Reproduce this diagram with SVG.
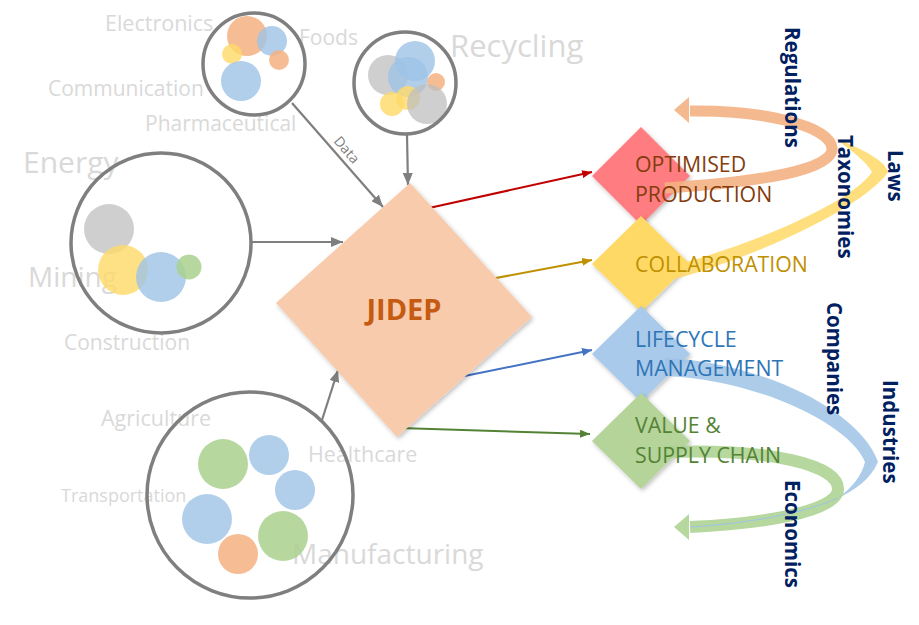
<svg xmlns="http://www.w3.org/2000/svg" width="919" height="625" viewBox="0 0 919 625">
<style>
.lbl{font-family:"Open Sans","Noto Sans",sans-serif;fill:#d9d9d9}
.ring{fill:none;stroke:#7f7f7f;stroke-width:3.5}
.gline{stroke:#7f7f7f;stroke-width:2.2;fill:none}
.vt{font-family:"Open Sans","Noto Sans",sans-serif;font-weight:bold;font-size:20.5px;fill:#002060}
.dt{font-family:"Open Sans","Noto Sans",sans-serif;font-size:21.3px}
.o{fill:#F4B183;fill-opacity:.85}
.b{fill:#9DC3E6;fill-opacity:.8}
.y{fill:#FFD966;fill-opacity:.8}
.g{fill:#BFBFBF;fill-opacity:.75}
.gr{fill:#A9D18E;fill-opacity:.85}
</style>
<defs>
<marker id="ag" viewBox="0 0 12 10" refX="12" refY="5" markerWidth="12" markerHeight="10" markerUnits="userSpaceOnUse" orient="auto"><path d="M0,0 L12,5 L0,10 Z" fill="#7f7f7f"/></marker>
<marker id="ar" viewBox="0 0 10 8" refX="10" refY="4" markerWidth="10" markerHeight="8" markerUnits="userSpaceOnUse" orient="auto"><path d="M0,0 L10,4 L0,8 Z" fill="#C00000"/></marker>
<marker id="ay" viewBox="0 0 10 8" refX="10" refY="4" markerWidth="10" markerHeight="8" markerUnits="userSpaceOnUse" orient="auto"><path d="M0,0 L10,4 L0,8 Z" fill="#BF9000"/></marker>
<marker id="ab" viewBox="0 0 10 8" refX="10" refY="4" markerWidth="10" markerHeight="8" markerUnits="userSpaceOnUse" orient="auto"><path d="M0,0 L10,4 L0,8 Z" fill="#4472C4"/></marker>
<marker id="agn" viewBox="0 0 10 8" refX="10" refY="4" markerWidth="10" markerHeight="8" markerUnits="userSpaceOnUse" orient="auto"><path d="M0,0 L10,4 L0,8 Z" fill="#548235"/></marker>
<filter id="sh" x="-20%" y="-20%" width="140%" height="140%"><feDropShadow dx="1.5" dy="2" stdDeviation="2" flood-color="#000" flood-opacity="0.25"/></filter>
</defs>

<g id="labels">
<text class="lbl" x="105" y="31" font-size="21.5">Electronics</text>
<text class="lbl" x="299" y="45" font-size="21">Foods</text>
<text class="lbl" x="48" y="96" font-size="21">Communication</text>
<text class="lbl" x="145" y="131" font-size="21">Pharmaceutical</text>
<text class="lbl" x="450" y="57" font-size="31">Recycling</text>
<text class="lbl" x="23" y="173" font-size="30">Energy</text>
<text class="lbl" x="28" y="287" font-size="28">Mining</text>
<text class="lbl" x="64" y="350" font-size="21">Construction</text>
<text class="lbl" x="101" y="426" font-size="21.5">Agriculture</text>
<text class="lbl" x="308" y="462" font-size="21.5">Healthcare</text>
<text class="lbl" x="61" y="502" font-size="18">Transportation</text>
<text class="lbl" x="292" y="564" font-size="28">Manufacturing</text>
</g>

<g id="cluster-top">
<circle class="o" cx="247" cy="36" r="20"/>
<circle class="b" cx="272" cy="41" r="15"/>
<circle class="y" cx="232" cy="54" r="10"/>
<circle class="o" cx="279" cy="60" r="10"/>
<circle class="b" cx="241" cy="81" r="20"/>
<circle class="ring" cx="254" cy="64" r="51"/>
</g>

<g id="cluster-recycling">
<circle class="g" cx="388" cy="75" r="20"/>
<circle class="b" cx="415" cy="61" r="20"/>
<circle class="b" cx="408" cy="77" r="20"/>
<circle class="o" cx="436" cy="82" r="9"/>
<circle class="y" cx="392" cy="104" r="12"/>
<circle class="y" cx="408" cy="98" r="12"/>
<circle class="g" cx="427" cy="104" r="20"/>
<circle class="ring" cx="405" cy="83" r="51"/>
</g>

<g id="cluster-energy">
<circle class="g" cx="109" cy="229" r="25"/>
<circle class="y" cx="123" cy="270" r="25"/>
<circle class="b" cx="161" cy="277" r="25"/>
<circle class="gr" cx="189" cy="267" r="12.5"/>
<circle class="ring" cx="161" cy="243" r="90"/>
</g>

<g id="cluster-manufacturing">
<circle class="gr" cx="223" cy="464" r="25"/>
<circle class="b" cx="269" cy="455" r="20"/>
<circle class="b" cx="295" cy="490" r="20"/>
<circle class="b" cx="207" cy="519" r="25"/>
<circle class="o" cx="238" cy="554" r="20"/>
<circle class="gr" cx="283" cy="536" r="25"/>
<circle class="ring" cx="250" cy="495" r="103"/>
</g>

<g id="connectors">
<line class="gline" x1="292" y1="103" x2="383" y2="207" marker-end="url(#ag)"/>
<line class="gline" x1="407" y1="135" x2="408" y2="185" marker-end="url(#ag)"/>
<line class="gline" x1="252" y1="242" x2="343" y2="242" marker-end="url(#ag)"/>
<line class="gline" x1="322" y1="420" x2="338" y2="370" marker-end="url(#ag)"/>
<text x="0" y="0" transform="translate(343,153) rotate(49)" text-anchor="middle" font-family="Open Sans, Noto Sans, sans-serif" font-size="14" fill="#7f7f7f">Data</text>
<line x1="420" y1="210" x2="592" y2="172" stroke="#C00000" stroke-width="2" marker-end="url(#ar)"/>
<line x1="480" y1="281" x2="592" y2="260" stroke="#BF9000" stroke-width="2" marker-end="url(#ay)"/>
<line x1="450" y1="379" x2="592" y2="350" stroke="#4472C4" stroke-width="2" marker-end="url(#ab)"/>
<line x1="400" y1="428" x2="590" y2="434" stroke="#548235" stroke-width="2" marker-end="url(#agn)"/>
</g>

<g id="jidep">
<polygon points="410,183 532,317 397,437 276,303" fill="#F8CBAD" filter="url(#sh)"/>
<text x="404" y="320" text-anchor="middle" font-family="Open Sans, Noto Sans, sans-serif" font-weight="bold" font-size="29" fill="#C55A11">JIDEP</text>
</g>

<g id="diamonds">
<polygon points="641,127 690,176 641,225 592,176" fill="#FF7C80" filter="url(#sh)"/>
<polygon points="641,216 690,264 641,312 592,264" fill="#FFD966" filter="url(#sh)"/>
<polygon points="641,306 690,354 641,402 592,354" fill="#A9CAEA" filter="url(#sh)"/>
<polygon points="641,393 690,441 641,489 592,441" fill="#B4D49A" filter="url(#sh)"/>
</g>

<g id="bands">
<path d="M690,111 C760,110 830,125 832,148 C834,170 760,182 665,188" fill="none" stroke="#F4B183" stroke-opacity="0.9" stroke-width="11"/>
<polygon points="674,110 689,97 689,123" fill="#F4B183" fill-opacity="0.9"/>
<path d="M835,138 C860,148 885,160 888,172 C870,200 780,250 665,282 L665,268 C770,240 855,198 872,172 C865,160 850,150 835,138 Z" fill="#FFD966" fill-opacity="0.85"/>
<path d="M665,358 C760,362 860,410 878,462 C870,480 855,490 838,498 C852,488 862,475 865,462 C850,425 760,380 665,376 Z" fill="#9DC3E6" fill-opacity="0.85"/>
<path d="M665,452 C770,448 840,465 838,490 C836,512 760,524 690,527" fill="none" stroke="#A9D18E" stroke-opacity="0.85" stroke-width="12"/>
<polygon points="674,527 689,514 689,540" fill="#A9D18E" fill-opacity="0.85"/>
<path d="M838,498 C800,515 740,524 690,527" fill="none" stroke="#9DC3E6" stroke-width="1"/>
</g>

<g id="diamond-texts">
<text class="dt" fill="#843C0C"><tspan x="635" y="172">OPTIMISED</tspan><tspan x="635" y="202">PRODUCTION</tspan></text>
<text class="dt" fill="#BF9000" x="635" y="272">COLLABORATION</text>
<text class="dt" fill="#2E75B6"><tspan x="635" y="347">LIFECYCLE</tspan><tspan x="635" y="376">MANAGEMENT</tspan></text>
<text class="dt" fill="#548235"><tspan x="635" y="433">VALUE &amp;</tspan><tspan x="635" y="463">SUPPLY CHAIN</tspan></text>
</g>

<g id="vertical-labels">
<text class="vt" transform="translate(785,27) rotate(90)">Regulations</text>
<text class="vt" transform="translate(838,135) rotate(90)">Taxonomies</text>
<text class="vt" transform="translate(888,150) rotate(90)">Laws</text>
<text class="vt" transform="translate(827,302) rotate(90)">Companies</text>
<text class="vt" transform="translate(883,380) rotate(90)">Industries</text>
<text class="vt" transform="translate(785,480) rotate(90)">Economics</text>
</g>
</svg>
